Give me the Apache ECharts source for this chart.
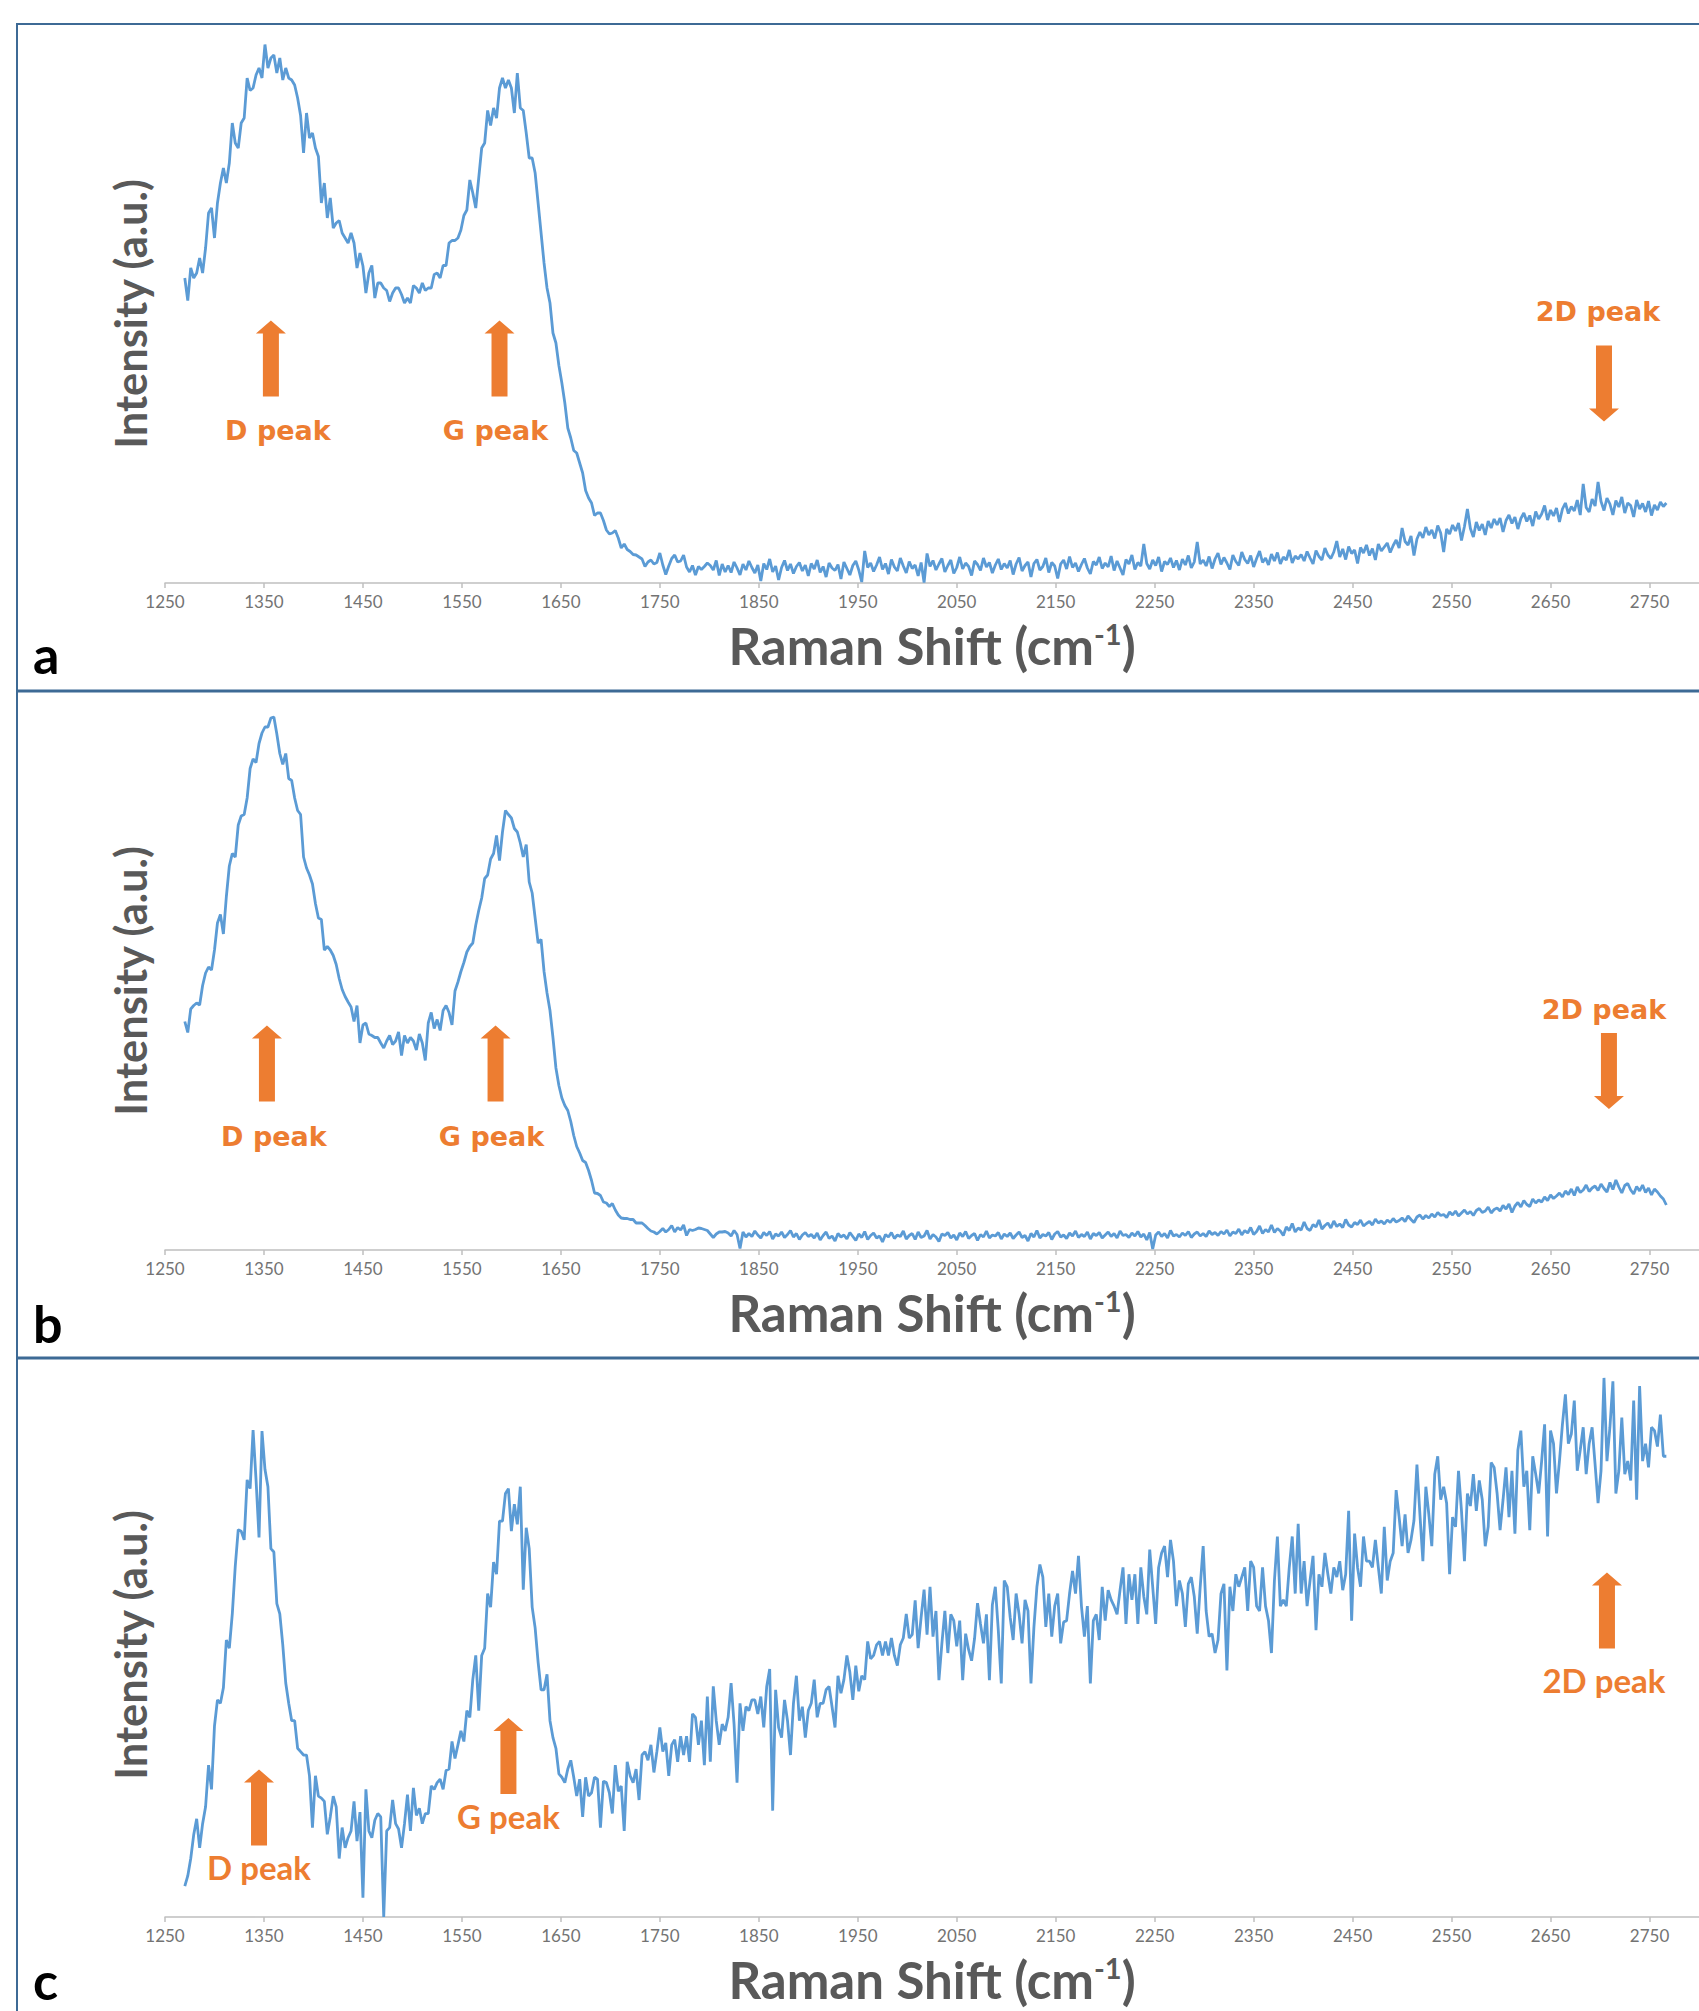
<!DOCTYPE html>
<html>
<head>
<meta charset="utf-8">
<script src="https://cdn.jsdelivr.net/npm/echarts@6/dist/echarts.min.js"></script>
<style>
html,body{margin:0;padding:0;background:#ffffff;}
#chart{width:1699px;height:2011px;}
</style>
</head>
<body>
<div id="chart"></div>
<script>
// Raman shift grid (cm-1) shared by all three spectra
const ramanStart = 1270;
const ramanStep = 3;
const tickLabels = [1250,1350,1450,1550,1650,1750,1850,1950,2050,2150,2250,2350,2450,2550,2650,2750];
const panelLetters = ['a','b','c'];
const xTitle = 'Raman Shift (cm';
const xTitleSup = '-1';
const yTitle = 'Intensity (a.u.)';
const peakNames = ['D peak','G peak','2D peak'];

// Intensity (a.u.), one value every 3 cm-1 from 1270 cm-1
const intensityA = [
61.0,56.5,63,61,62,65,62,67,74,75,
69,76,80,83,80,84,92,88,87,92,
93,101,98.5,99,101.6,103,101,107.7,103,105,
105.6,102,105,100.6,103,101,100.6,99.6,97,93.5,
86,94,89,90,87,85.3,76,80,73,77,
71,72,72.5,70,69,68,70,68,63,66,
63.4,58,62,63.5,57,60,60,59,58.5,56.3,
58,59,59,57.7,56,57,56,59.5,59,58,
60,58.5,59,59,61.7,62,61,63.5,63.5,68,
68.5,68.5,69,70.6,73.5,74.6,80.6,78,75,81,
87,88,94.5,91.5,95,93,99,101,99,100.6,
99,94,102,95,94.5,90,85,85,82,76,
70,64,59,56,50,48,43.5,40,36,31,
29,26.5,26,24,22,18.5,17,16,13.5,14,
14,12.5,10.6,9.8,10,10.5,9,7,7.8,6.7,
6.3,5.7,5.6,5.2,4.8,3.3,4.2,4.6,3.8,4.1,
6,3.6,1.7,3.4,4.9,5.6,4.2,4.4,5.6,3.2,
2.2,3.5,1.6,3.3,2.7,3.3,4,3.5,2.6,4.5,
1.5,3.8,2.2,
3.5,2.1,4.2,3.0,1.6,3.8,2.6,4.4,3.1,2.0,3.6,0.4,3.9,2.7,4.8,2.2,3.4,0.6,3.1,4.5,2.5,3.8,1.9,3.3,4.1,2.4,3.6,1.4,
3.9,2.8,4.6,2.1,3.3,1.2,4.0,3.0,2.5,3.7,0.8,4.2,2.9,1.6,3.5,4.4,2.6,0.2,6.4,3.1,4.0,2.3,3.6,5.2,2.7,3.9,1.8,4.7,3.2,2.4,5.0,3.4,2.0,
4.3,2.9,3.6,1.4,4.1,0.1,5.9,3.3,4.5,2.6,3.8,4.9,2.2,3.5,4.6,1.9,3.1,5.2,2.8,4.0,3.3,1.5,4.4,3.7,2.5,5.0,3.2,4.1,2.0,3.6,4.8,2.7,3.9,
3.0,4.5,1.7,3.8,5.1,2.4,3.5,4.2,1.2,3.9,4.7,2.6,3.3,5.0,2.1,4.1,3.4,0.9,3.8,4.6,2.8,5.3,3.1,4.0,2.3,3.7,4.9,3.0,1.8,4.3,3.6,5.2,2.9,
4.0,3.2,5.4,2.5,4.4,3.0,1.6,4.7,3.8,5.6,2.7,4.1,3.4,7.8,3.9,2.8,4.6,3.5,5.2,2.3,4.3,3.7,5.0,3.1,4.5,2.6,4.8,3.6,5.5,3.0,4.2,8.2,3.8,
4.6,3.4,5.3,2.9,4.8,6.0,3.7,5.1,4.0,2.7,5.6,4.3,3.5,6.2,4.7,3.9,5.5,3.2,4.9,6.4,4.1,5.0,3.6,5.8,4.4,6.1,3.8,5.2,4.6,6.6,4.0,5.4,4.8,
5.7,4.4,6.3,5.0,3.8,6.5,5.3,4.6,7.0,5.6,4.9,6.2,8.4,5.2,6.8,4.7,7.3,5.9,6.6,3.9,7.1,6.0,7.6,5.5,6.9,4.6,7.8,6.4,7.2,8.0,6.1,7.5,8.6,
7.0,11.0,8.3,7.6,9.4,5.5,8.8,10.2,9.0,11.2,9.6,10.6,8.9,11.5,10.0,6.2,10.8,9.8,11.6,10.4,12.0,8.5,11.3,14.8,10.9,9.2,12.2,10.5,11.8,9.6,12.4,11.0,12.8,
11.6,13.0,10.2,12.5,13.6,11.9,13.2,10.8,12.9,14.0,12.3,13.5,11.4,14.3,12.8,13.8,15.5,12.6,14.6,13.4,15.0,12.2,14.8,16.0,13.9,15.3,14.4,16.6,13.6,19.8,15.1,14.2,16.8,
15.4,20.2,16.3,14.5,17.0,15.8,13.6,16.5,15.2,17.2,14.0,16.0,15.5,13.2,16.6,14.8,15.9,14.2,16.4,13.5,15.6,14.6,16.2,15.3,16.0
];

const intensityB = [
45.7,43.5,48.2,48.9,49.4,49,52.9,55.4,56.6,56,
60,65.4,67.1,63.2,70.7,76.8,79.3,78.6,85,86.8,
87.1,90.4,96.3,98.2,97.5,101.3,103.4,104.6,104.6,106.4,
106.6,103.2,99.3,97.1,99.3,94.3,93.9,90.4,87.9,87.1,
78.6,76.4,75,73.2,69.3,66.4,66.1,60,60.7,60,
58.9,57.1,54.3,52.1,50.7,49.6,48.6,45.7,48.9,41.4,
45,45.4,43.2,42.9,42.5,42.5,41.4,40.4,41.8,42.9,
41.1,41.8,43.6,38.9,42.9,41.4,42.5,41.8,40,43.2,
41.4,37.9,45.4,47.5,44.3,46.1,43.9,47.9,48.9,47.5,
45,51.8,53.6,55.7,57.5,59.6,60.7,61.4,65,67.9,
70.4,74.3,75,78.2,79.3,82.9,77.9,83.6,87.9,87.1,
86.4,84.3,83.6,81.4,78.6,81.1,73.6,71.4,66.4,61.4,
62.1,55.7,51.4,47.9,42.5,36.4,32.9,30.4,28.9,27.9,
25.7,22.9,20.7,19.4,17.9,17.5,15.9,13.9,11.4,11.3,
10.9,9.6,9.4,8.7,9.3,8,7,6.4,6.3,6.3,
6.1,6.1,5.4,5.4,5.4,4.9,4.3,3.8,3.6,3.2,
3.7,4.3,3.6,4.1,4.9,3.6,4.5,4.0,5.0,2.9,
4.1,3.9,4.1,4.4,4.3,4.1,3.9,3.2,2.5,3.2,
3.6,3.6,3.7,
3.4,2.8,3.9,3.1,0.3,3.6,2.6,3.3,2.7,3.8,3.0,2.4,3.5,2.9,3.7,2.2,3.2,2.8,3.6,2.5,3.1,3.9,2.6,3.3,2.1,3.0,3.5,2.7,
3.1,2.4,3.4,2.0,2.9,3.6,2.3,2.8,1.8,3.3,2.6,3.0,2.2,3.5,2.7,1.9,3.2,2.5,3.7,2.1,2.9,3.4,2.4,2.8,1.6,3.1,2.6,3.5,2.3,3.0,2.7,3.8,2.2,
2.9,3.3,2.1,3.6,2.5,2.8,3.9,2.2,3.1,2.6,1.7,3.2,2.9,3.5,2.4,3.0,2.0,3.4,2.7,3.7,2.3,2.9,3.3,1.9,3.1,2.6,3.8,2.4,3.0,2.8,3.5,2.2,3.2,
2.7,3.4,2.3,3.0,3.6,2.5,2.9,1.8,3.3,2.6,3.9,2.4,3.1,2.8,3.5,2.1,3.2,3.7,2.6,3.0,2.3,3.4,2.8,3.8,2.5,3.1,2.7,3.6,2.2,3.3,2.9,3.5,2.4,
3.0,3.6,2.7,3.3,2.4,3.8,2.9,3.1,2.5,3.4,2.8,3.7,2.6,3.2,2.0,3.5,0.2,3.0,3.6,2.7,3.3,2.4,3.9,2.8,3.1,2.6,3.4,2.9,3.7,2.5,3.2,3.6,2.8,
3.3,2.7,3.8,3.1,3.5,2.9,3.7,3.2,4.0,2.8,3.6,3.3,4.2,3.0,3.9,3.4,4.5,3.1,3.7,4.8,3.3,4.1,3.6,5.0,3.5,4.3,3.8,2.9,4.6,3.9,5.3,3.6,4.4,
4.0,5.6,4.3,3.9,5.1,4.6,6.0,4.2,4.9,5.4,4.4,5.8,4.7,5.2,4.5,6.1,5.0,4.6,5.5,5.1,6.0,4.8,5.3,5.7,5.0,6.2,5.4,5.8,5.2,6.0,5.5,6.3,5.6,
5.9,6.4,5.7,6.8,6.1,5.5,6.6,7.0,6.2,6.9,6.4,7.2,6.6,7.5,6.9,7.1,6.5,7.6,7.0,7.8,6.8,7.4,8.0,7.2,7.7,6.9,7.9,8.3,7.5,7.8,8.6,7.4,8.1,
8.4,7.8,8.9,8.2,9.2,7.5,8.8,9.5,8.6,9.9,9.1,8.7,10.2,9.4,10.0,9.6,10.6,9.9,11.0,10.3,10.8,11.4,10.6,11.8,11.1,12.2,10.9,12.6,11.5,12.0,13.0,11.7,12.4,
12.8,11.9,13.2,12.3,11.6,13.5,12.1,14.0,12.6,11.4,12.9,13.3,12.0,11.2,12.7,11.8,13.0,11.5,12.4,11.0,12.2,11.6,10.8,10.2,9.0
];

const intensityC = [
6.4,8.5,12.1,17,20.3,14.3,19.3,22.8,31.4,26.4,
39.5,44.9,44.2,47.4,57.3,55.6,62.7,72.6,80.1,79.8,
78,90.4,88.6,100.7,90.4,78.5,100.5,92.6,89,76.2,
75.5,64.8,62.7,56.3,48.4,44.2,40.6,40.6,34.9,34.2,
33.5,33.5,29.2,18.5,29.2,25,24.6,23.9,17.1,20.7,
25,22.8,12.1,18.5,14.3,16.4,17.8,23.9,15.7,21.7,
4,26.4,17.8,16.4,20,21.4,20.7,0,17.8,18.5,
24.2,19.3,18.2,14.3,19.3,25.3,17.8,26.7,21,22.5,
19.3,21.4,21.4,27.1,26.4,27.8,28.5,26.4,30.3,30.6,
36.3,32.8,35.6,38.5,36.3,42.7,41.3,49.1,54.1,42.7,
54.1,55.6,66.9,64.1,73.4,70.9,81.9,81.9,87.6,88.6,
79.8,85.4,81.2,89,67.7,80.5,76.2,64.1,59.8,52.7,
47,47,50.2,40.6,37.1,34.9,29.6,28.9,27.8,30.6,
32.4,28.9,25,28.5,20.7,28.9,25,25.7,28.9,28.5,
18.5,28.1,27.8,25.7,21.4,31.4,26,27.1,17.8,32.1,
29.2,27.8,30.6,24.2,33.5,34.2,32.4,35.6,29.9,34.2,
39.2,34.2,36,29.2,35.6,36.7,32.1,37.4,33.5,37.4,
32.1,42,41.3,35.6,40.6,31.4,45.6,32.1,47.7,40.6,
35.6,39.9,38.5,41.3,48.4,39.9,27.8,44.2,38.5,43.5,
42.7,44.9,44.9,42,45.6,39.2,47.7,51.3,22,47,
39.2,37.1,44.9,40.6,33.5,44.2,49.9,40.6,43.5,37.1,
42.7,44.2,49.1,41.3,44.2,44.2,47,47.7,43.5,39.2,
49.9,46.3,49.1,54.1,50.6,44.9,52,46.7,49.9,49.1,
57,53.4,54.1,56.3,57,54.1,57,54.1,57.7,54.1,
52,56.3,57.7,62.7,57.7,58.4,65.5,55.6,62,67.7,
58.4,
68.3,58.0,63.3,49.0,56.6,63.3,54.6,62.6,61.3,56.0,
61.3,49.0,58.6,55.3,53.0,57.6,64.9,60.6,56.6,62.6,
49.0,64.6,68.3,59.3,48.3,69.6,68.3,62.0,57.3,66.9,
62.6,56.6,65.6,63.3,48.3,60.0,68.3,72.9,70.3,60.0,
66.9,58.0,64.3,66.9,56.6,61.0,61.3,66.9,71.6,66.9,
74.7,64.3,58.0,64.3,48.3,61.3,62.6,57.3,68.3,61.3,
67.6,65.6,64.3,62.6,67.6,72.3,60.6,70.9,65.6,70.9,
60.6,72.3,66.3,62.6,76.0,68.3,60.6,72.3,75.3,76.7,
70.3,78.0,73.6,64.3,69.6,66.9,60.0,68.9,70.3,66.3,
58.6,68.3,76.7,63.3,58.0,58.6,54.6,57.3,66.9,68.9,
51.0,68.3,63.3,70.9,68.3,70.3,72.3,63.3,73.6,72.3,
64.3,63.3,72.3,64.3,61.3,54.6,69.6,78.7,64.3,65.6,
64.3,72.3,78.7,66.9,81.3,66.9,73.6,64.3,69.6,74.7,
59.3,70.9,68.3,75.3,70.9,66.9,72.3,70.3,73.6,67.6,
70.9,84.0,61.3,79.3,72.3,68.3,78.7,73.6,73.6,72.3,
78.0,72.3,66.9,80.7,69.6,73.6,75.3,88.3,82.7,76.7,
83.3,75.3,78.0,82.0,93.6,83.3,73.6,89.0,83.3,76.7,
91.6,95.3,86.3,89.0,85.6,70.9,82.7,80.7,92.3,84.0,
73.6,87.6,85.0,91.6,84.0,90.3,86.3,76.7,80.7,94.0,
93.0,87.6,80.0,86.3,93.0,82.7,92.3,79.3,96.6,100.6,
89.0,92.3,80.0,95.3,91.6,87.6,94.3,101.9,78.7,100.6,
97.9,87.6,94.3,101.9,108.1,97.9,99.9,106.8,92.3,96.6,
101.3,91.6,97.9,101.3,93.6,85.6,92.3,111.5,94.3,101.3,
110.8,87.6,92.3,103.3,91.6,94.3,90.3,106.8,86.3,109.8,
94.3,97.9,93.0,101.3,100.6,97.3,103.9,95.3,95.3
];

const spectra = [intensityA, intensityB, intensityC];

// ---- presentation ----
const BLUE = '#5B9BD5', ORANGE = '#ED7D31', GREY = '#595959', FRAME = '#3D6A95';
const UP = 'path://M15,0L30,13L23,13L23,76L7,76L7,13L0,13Z';
const DOWN = 'path://M7,0L23,0L23,63L30,63L15,76L0,63L7,63Z';

const grids = [
  {left:165, top:33, width:1536, height:550},
  {left:165, top:700, width:1536, height:550},
  {left:165, top:1361, width:1536, height:556}
];
const yMax = [110, 110, 115];

// annotation placement: [peakIndex, x (cm-1), y (a.u.), direction, label distance, label x offset]
const marks = [
  [[0,1357,44.9,'up',20,7],[1,1588,44.9,'up',20,-4],[2,2704,39.9,'down',21,-6]],
  [[0,1353,37.3,'up',21,7],[1,1584,37.3,'up',21,-4],[2,2709,35.8,'down',10,-5]],
  [[0,1345,22.65,'up',5,0],[1,1597,33.3,'up',5,0],[2,2707,63.4,'up',15,-3]]
];

function markData(p) {
  const font = p === 2 ? {fontFamily:'Lato', fontSize:33} : {fontFamily:'DejaVu Sans', fontSize:27};
  return marks[p].map(m => ({
    coord: [m[1], m[2]],
    symbol: m[3] === 'up' ? UP : DOWN,
    symbolSize: [30, 76],
    symbolKeepAspect: false,
    itemStyle: {color: ORANGE},
    label: Object.assign({
      show: true,
      formatter: peakNames[m[0]],
      position: m[3] === 'up' ? 'bottom' : 'top',
      distance: m[4],
      offset: [m[5], 0],
      color: ORANGE,
      fontWeight: 'bold'
    }, font)
  }));
}

const option = {
  animation: false,
  backgroundColor: '#ffffff',
  grid: grids,
  xAxis: grids.map((g, i) => ({
    gridIndex: i,
    type: 'value',
    min: 1250,
    max: 2800,
    interval: 100,
    axisLine: {show: true, onZero: false, lineStyle: {color: '#BFBFBF', width: 1.5}},
    axisTick: {show: true, length: 5, lineStyle: {color: '#BFBFBF', width: 1.5}},
    axisLabel: {color: '#737373', fontFamily: 'Lato', fontSize: 17, margin: 10, showMaxLabel: false,
      formatter: v => (tickLabels.indexOf(v) >= 0 ? String(v) : '')},
    splitLine: {show: false},
    name: '{m|' + xTitle + '}{s|' + xTitleSup + '}{m|)}',
    nameLocation: 'middle',
    nameGap: 36,
    nameTextStyle: {
      rich: {
        m: {fontFamily: 'Lato', fontWeight: 'bold', fontSize: 51, color: GREY, lineHeight: 53},
        s: {fontFamily: 'Lato', fontWeight: 'bold', fontSize: 29, color: GREY, verticalAlign: 'top', lineHeight: 30}
      }
    }
  })),
  yAxis: grids.map((g, i) => ({
    gridIndex: i,
    type: 'value',
    min: 0,
    max: yMax[i],
    axisLine: {show: false},
    axisTick: {show: false},
    axisLabel: {show: false},
    splitLine: {show: false},
    name: yTitle,
    nameLocation: 'middle',
    nameRotate: 90,
    nameGap: 13,
    nameTextStyle: {fontFamily: 'Lato', fontWeight: 'bold', fontSize: 43.5, color: GREY, padding: [0, 12, 0, 0]}
  })),
  series: spectra.map((vals, i) => ({
    type: 'line',
    xAxisIndex: i,
    yAxisIndex: i,
    data: vals.map((v, k) => [ramanStart + k * ramanStep, v]),
    showSymbol: false,
    symbol: 'none',
    clip: false,
    lineStyle: {color: BLUE, width: 2.8},
    silent: true,
    markPoint: {silent: true, animation: false, data: markData(i)}
  })),
  graphic: [
    {type: 'line', shape: {x1: 17, y1: 24, x2: 1699, y2: 24}, style: {stroke: FRAME, lineWidth: 2}},
    {type: 'line', shape: {x1: 17, y1: 23, x2: 17, y2: 2011}, style: {stroke: FRAME, lineWidth: 2}},
    {type: 'line', shape: {x1: 17, y1: 691, x2: 1699, y2: 691}, style: {stroke: FRAME, lineWidth: 3}},
    {type: 'line', shape: {x1: 17, y1: 1358, x2: 1699, y2: 1358}, style: {stroke: FRAME, lineWidth: 3}}
  ].concat(panelLetters.map((t, i) => ({
    type: 'text',
    style: {text: t, x: 33, y: [654, 1323, 1980][i], fill: '#000000',
      font: 'bold 52px Lato', textAlign: 'left', textVerticalAlign: 'middle', verticalAlign: 'middle'}
  })))
};

const chart = echarts.init(document.getElementById('chart'), null, {renderer: 'svg', width: 1699, height: 2011});
chart.setOption(option);
</script>
</body>
</html>
